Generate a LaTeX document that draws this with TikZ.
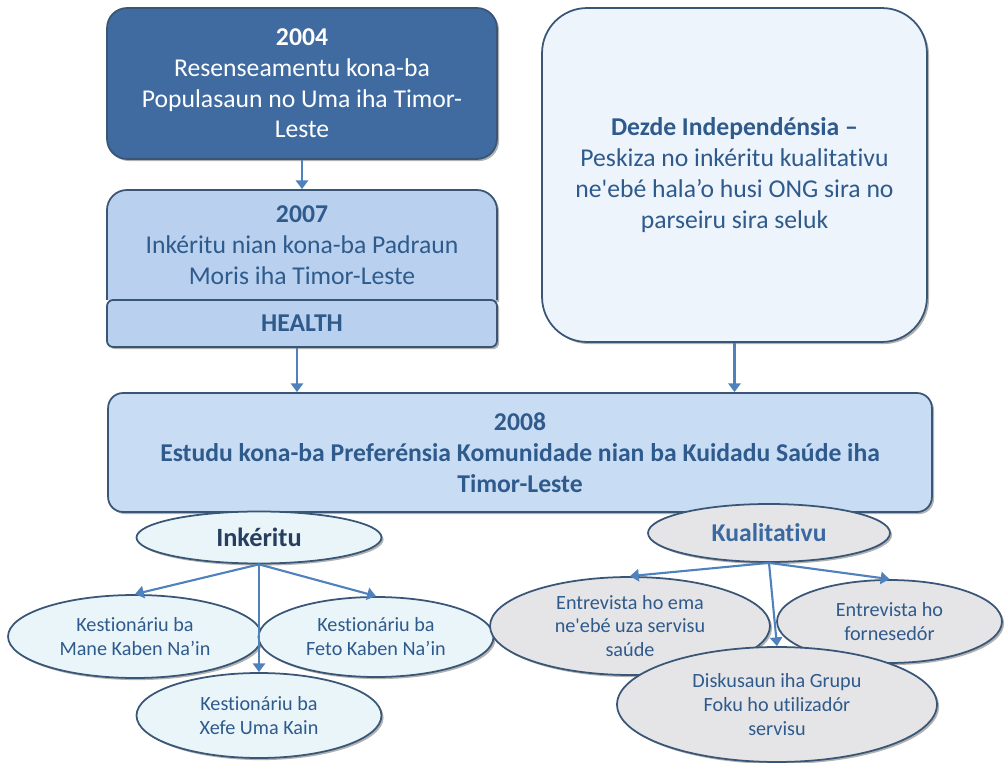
\documentclass[tikz,border=0pt]{standalone}
\usepackage{fontspec}
\setmainfont{Carlito}[Ligatures={NoCommon}]
\usetikzlibrary{shapes.geometric,arrows.meta,shadows}
\definecolor{edge}{HTML}{3A5676}
\definecolor{darkfill}{HTML}{3F6BA0}
\definecolor{lightfill}{HTML}{B9D1EE}
\definecolor{palefill}{HTML}{C8DCF4}
\definecolor{indepfill}{HTML}{EEF4FB}
\definecolor{cyanfill}{HTML}{EAF5FA}
\definecolor{grayfill}{HTML}{E5E5E7}
\definecolor{textblue}{HTML}{2E5A8C}
\definecolor{navy}{HTML}{263F5E}
\definecolor{labelblue}{HTML}{3A69A2}
\definecolor{arrowblue}{HTML}{4F81BD}
\begin{document}
\begin{tikzpicture}[x=0.02cm,y=-0.02cm,
  boxshadow/.style={drop shadow={shadow xshift=1.2pt,shadow yshift=-1.2pt,opacity=0.3,fill=black}},
  box/.style={draw=edge,line width=1pt,rounded corners=0.4cm,align=center,inner sep=0pt,
    text=textblue,font=\fontsize{14.6}{17.5}\selectfont},
  oval/.style={ellipse,draw=edge,line width=1pt,align=center,inner sep=0pt,boxshadow,
    text=textblue,font=\fontsize{11.5}{13.6}\selectfont},
  arr/.style={draw=arrowblue,line width=1.2pt,-{Triangle[width=7pt,length=5pt]}}]
\useasboundingbox (0,0) rectangle (1008,763);
\node[box,boxshadow,fill=darkfill,text=white,minimum width=7.8cm,minimum height=3.02cm] (y2004) at (302,83.5)
  {\textbf{2004}\\Resenseamentu kona-ba\\Populasaun no Uma iha Timor-\\Leste};
\draw[draw=edge,line width=1pt,fill=lightfill,boxshadow] (107,300) [rounded corners=0.4cm] -- (107,190) -- (497,190) [sharp corners] -- (497,300);
\node[box,draw=none,minimum width=7.8cm,minimum height=2.2cm] (y2007) at (302,245)
  {\textbf{2007}\\Inkéritu nian kona-ba Padraun\\Moris iha Timor-Leste};
\node[box,boxshadow,fill=lightfill,rounded corners=0.12cm,minimum width=7.8cm,minimum height=0.94cm] (health) at (302,323.5)
  {\textbf{HEALTH}};
\node[box,boxshadow,fill=indepfill,rounded corners=0.9cm,minimum width=7.7cm,minimum height=6.68cm] (indep) at (734.5,175)
  {\textbf{Dezde Independénsia --}\\Peskiza no inkéritu kualitativu\\ne\textquotesingle ebé hala’o husi ONG sira no\\parseiru sira seluk};
\node[box,boxshadow,fill=palefill,rounded corners=0.3cm,minimum width=16.48cm,minimum height=2.38cm] (y2008) at (520,452.5)
  {\bfseries 2008\\\bfseries Estudu kona-ba Preferénsia Komunidade nian ba Kuidadu Saúde iha\\\bfseries Timor-Leste};
\node[oval,fill=cyanfill,text=navy,font=\fontsize{15}{17}\selectfont\bfseries,minimum width=4.9cm,minimum height=1.04cm] (ink) at (259,537.5) {Inkéritu};
\node[oval,fill=grayfill,text=labelblue,font=\fontsize{14.6}{17}\selectfont\bfseries,minimum width=4.84cm,minimum height=1.16cm] (kual) at (769,533) {Kualitativu};
\node[oval,fill=cyanfill,minimum width=5.08cm,minimum height=1.66cm] (mane) at (135,636.5) {Kestionáriu ba\\Mane Kaben Na’in};
\node[oval,fill=cyanfill,minimum width=4.7cm,minimum height=1.6cm] (feto) at (376,637) {Kestionáriu ba\\Feto Kaben Na’in};
\node[oval,fill=cyanfill,minimum width=4.9cm,minimum height=1.7cm] (xefe) at (259,715.5) {Kestionáriu ba\\Xefe Uma Kain};
\node[oval,fill=grayfill,minimum width=5.6cm,minimum height=1.96cm] (ema) at (630,626) {Entrevista ho ema\\ne\textquotesingle ebé uza servisu\\saúde};
\node[oval,fill=grayfill,minimum width=4.5cm,minimum height=1.66cm] (forn) at (889.5,621.5) {Entrevista ho\\fornesedór};
\node[oval,fill=grayfill,minimum width=6.4cm,minimum height=2.3cm] (disk) at (777,704.5) {Diskusaun iha Grupu\\Foku ho utilizadór\\servisu};
\draw[arr] (y2004.south) -- (y2007.north);
\draw[arr] ([xshift=-0.1cm]health.south) -- ([xshift=-0.1cm]health.south |- y2008.north);
\draw[arr] (indep.south) -- (indep.south |- y2008.north);
\draw[arr] (ink.south) -- (mane.north);
\draw[arr] (ink.south) -- (feto.north);
\draw[arr] (ink.south) -- (xefe.north);
\draw[arr] (kual.south) -- (ema.north);
\draw[arr] (kual.south) -- (forn.north);
\draw[arr] (kual.south) -- (disk.north);
\end{tikzpicture}
\end{document}
